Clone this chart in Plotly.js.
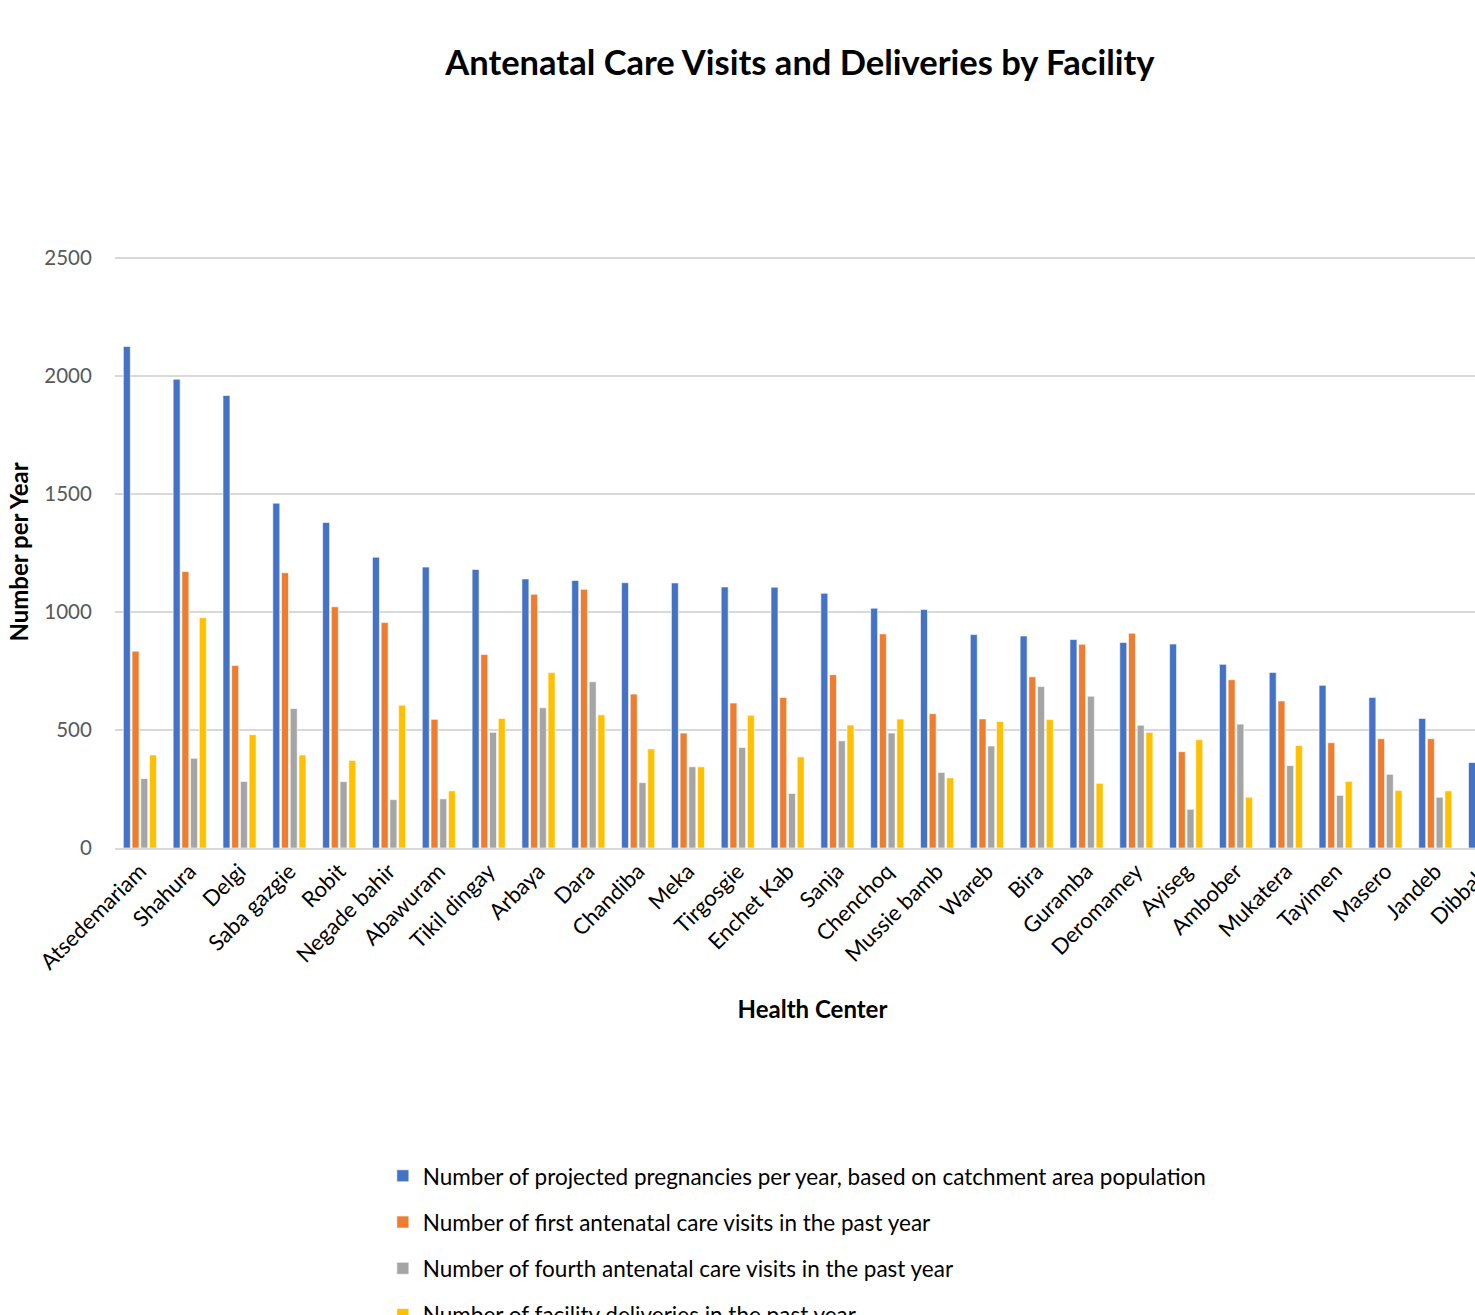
<!DOCTYPE html>
<html>
<head>
<meta charset="utf-8">
<script src="https://cdn.plot.ly/plotly-3.0.1.min.js"></script>
<style>
html, body { margin:0; padding:0; overflow:hidden; background:#fff; width:1475px; height:1315px; }
#chart { width:1520px; height:1345px; }
</style>
</head>
<body>
<div id="chart"></div>
<script>
const facilities = ["Atsedemariam","Shahura","Delgi","Saba gazgie","Robit","Negade bahir","Abawuram","Tikil dingay","Arbaya","Dara","Chandiba","Meka","Tirgosgie","Enchet Kab","Sanja","Chenchoq","Mussie bamb","Wareb","Bira","Guramba","Deromamey","Ayiseg","Ambober","Mukatera","Tayimen","Masero","Jandeb","Dibbahi"];

const projectedPregnancies = [2125,1986,1917,1461,1379,1232,1190,1180,1140,1133,1124,1123,1106,1105,1079,1016,1010,904,898,883,871,864,778,744,689,638,549,362];
const firstANC = [834,1171,773,1166,1022,955,545,820,1075,1096,652,487,614,638,734,907,569,547,725,863,910,408,713,623,446,463,463,null];
const fourthANC = [294,380,282,591,281,205,208,490,594,704,277,344,426,231,454,487,320,432,684,643,520,164,525,349,223,312,215,null];
const deliveries = [394,976,480,394,371,605,242,549,743,564,420,344,562,386,521,546,297,536,544,274,490,459,215,434,282,244,242,null];

const seriesNames = [
  "Number of projected pregnancies per year, based on catchment area population",
  "Number of first antenatal care visits in the past year",
  "Number of fourth antenatal care visits in the past year",
  "Number of facility deliveries in the past year"
];
const colors = ["#4472C4","#ED7D31","#A5A5A5","#FFC000"];
const values = [projectedPregnancies, firstANC, fourthANC, deliveries];

const font = "Lato, 'Open Sans', sans-serif";

const traces = values.map((v, i) => ({
  type: "bar",
  x: facilities,
  y: v,
  name: seriesNames[i],
  legendgroup: "g" + i,
  marker: { color: colors[i], line: { color: "rgba(255,255,255,0.6)", width: 1 } },
  hoverinfo: "x+y+name"
}));

const layout = {
  width: 1520,
  height: 1345,
  paper_bgcolor: "#fff",
  plot_bgcolor: "#fff",
  margin: { l: 115, r: 10, t: 256, b: 497, autoexpand: false },
  font: { family: font, color: "#000" },
  title: {
    text: "<b>Antenatal Care Visits and Deliveries by Facility</b>",
    font: { family: font, size: 34.5, color: "#000" },
    xref: "paper", x: 0.491, xanchor: "center",
    yref: "container", y: 0.9532, yanchor: "middle"
  },
  barmode: "group",
  bargap: 0.3,
  bargroupgap: 0.2,
  xaxis: {
    type: "category",
    range: [-0.5, 27.5],
    tickangle: -45,
    tickfont: { family: font, size: 22, color: "#000" },
    showgrid: false,
    showline: true,
    linecolor: "#d9d9d9",
    linewidth: 1.5,
    ticks: "",
    automargin: false,
    title: {
      text: "<b>Health Center</b>",
      font: { family: font, size: 24, color: "#000" },
      standoff: 28
    }
  },
  yaxis: {
    range: [0, 2508],
    tickvals: [0, 500, 1000, 1500, 2000, 2500],
    ticktext: ["0", "500", "1000", "1500", "2000", "2500"],
    tickfont: { family: font, size: 20.5, color: "#595959" },
    showgrid: true,
    gridcolor: "#d9d9d9",
    gridwidth: 1.5,
    zeroline: false,
    showline: false,
    ticks: "outside",
    ticklen: 18,
    tickcolor: "rgba(0,0,0,0)",
    automargin: false,
    title: {
      text: "<b>Number per Year</b>",
      font: { family: font, size: 24, color: "#000" },
      standoff: 8
    }
  },
  showlegend: true,
  legend: {
    orientation: "v",
    xref: "paper", x: 0.192, xanchor: "left",
    yref: "paper", y: -0.518, yanchor: "top",
    font: { family: font, size: 22.5, color: "#000" },
    tracegroupgap: 14,
    bgcolor: "rgba(0,0,0,0)"
  }
};

Plotly.newPlot("chart", traces, layout, { displayModeBar: false });
</script>
</body>
</html>
